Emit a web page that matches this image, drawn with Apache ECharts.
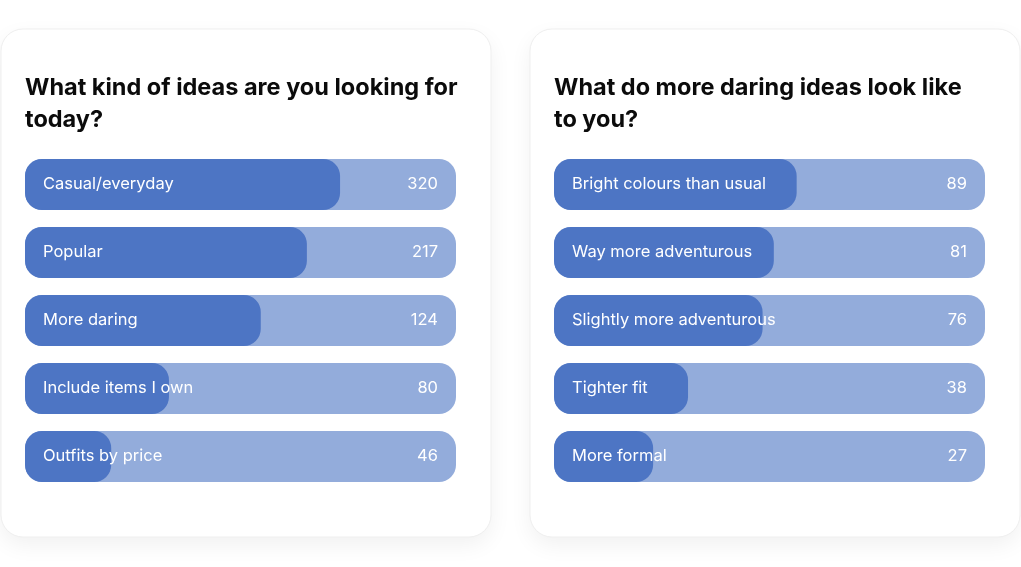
<!DOCTYPE html>
<html>
<head>
<meta charset="utf-8">
<script src="https://cdn.jsdelivr.net/npm/echarts@6/dist/echarts.min.js"></script>
<style>
  html, body { margin: 0; padding: 0; background: #ffffff; }
  #chart { width: 1021px; height: 567px; }
</style>
</head>
<body>
<div id="chart"></div>
<script>
// ---- Data ----
const leftTitle = "What kind of ideas are you looking for\ntoday?";
const leftCategories = ["Casual/everyday", "Popular", "More daring", "Include items I own", "Outfits by price"];
const leftCounts = [320, 217, 124, 80, 46];
const leftShare = [73.1, 65.4, 54.7, 33.4, 20.0]; // bar length, % of track

const rightTitle = "What do more daring ideas look like\nto you?";
const rightCategories = ["Bright colours than usual", "Way more adventurous", "Slightly more adventurous", "Tighter fit", "More formal"];
const rightCounts = [89, 81, 76, 38, 27];
const rightShare = [56.3, 51.0, 48.4, 31.1, 23.0];

const trackMax = 100;

// ---- Styles ----
const DARK = '#4d75c4';
const LIGHT = '#93acdb';
const FONT = 'Inter, "Noto Sans", sans-serif';

const chart = echarts.init(document.getElementById('chart'), null, { renderer: 'canvas' });

function card(x) {
  return {
    type: 'rect',
    shape: { x: x, y: 29, width: 490, height: 508, r: 22 },
    style: {
      fill: '#ffffff',
      stroke: '#efefef',
      lineWidth: 1,
      shadowBlur: 22,
      shadowOffsetY: 8,
      shadowColor: 'rgba(0,0,0,0.06)'
    },
    z: -10,
    silent: true
  };
}

function seriesFor(idx, cats, counts, share) {
  return [
    {
      type: 'bar',
      xAxisIndex: idx, yAxisIndex: idx,
      data: cats.map(() => trackMax),
      barWidth: 51,
      barGap: '-100%',
      itemStyle: { color: LIGHT, borderRadius: 17 },
      label: {
        show: true,
        position: 'insideRight',
        distance: 18,
        formatter: p => String(counts[p.dataIndex]),
        color: '#ffffff',
        fontFamily: FONT,
        fontSize: 16.5,
        fontWeight: 400
      },
      silent: true,
      z: 1
    },
    {
      type: 'bar',
      xAxisIndex: idx, yAxisIndex: idx,
      data: share,
      barWidth: 51,
      barGap: '-100%',
      itemStyle: { color: DARK, borderRadius: 17 },
      label: {
        show: true,
        position: 'insideLeft',
        distance: 18,
        formatter: p => cats[p.dataIndex],
        color: '#ffffff',
        fontFamily: FONT,
        fontSize: 16.5,
        fontWeight: 400
      },
      silent: true,
      z: 2
    }
  ];
}

const titleStyle = { fontFamily: FONT, fontSize: 23.5, fontWeight: 'bold', color: '#0b0b0b', lineHeight: 32 };

const option = {
  backgroundColor: '#ffffff',
  animation: false,
  graphic: [card(1), card(530)],
  title: [
    { text: leftTitle, left: 25, top: 72, padding: 0, textStyle: titleStyle },
    { text: rightTitle, left: 554, top: 72, padding: 0, textStyle: titleStyle }
  ],
  grid: [
    { left: 25, width: 431, top: 150.5, height: 340 },
    { left: 554, width: 431, top: 150.5, height: 340 }
  ],
  xAxis: [
    { gridIndex: 0, type: 'value', min: 0, max: trackMax, show: false },
    { gridIndex: 1, type: 'value', min: 0, max: trackMax, show: false }
  ],
  yAxis: [
    { gridIndex: 0, type: 'category', data: leftCategories, inverse: true, show: false },
    { gridIndex: 1, type: 'category', data: rightCategories, inverse: true, show: false }
  ],
  series: [
    ...seriesFor(0, leftCategories, leftCounts, leftShare),
    ...seriesFor(1, rightCategories, rightCounts, rightShare)
  ]
};

chart.setOption(option);
</script>
</body>
</html>
